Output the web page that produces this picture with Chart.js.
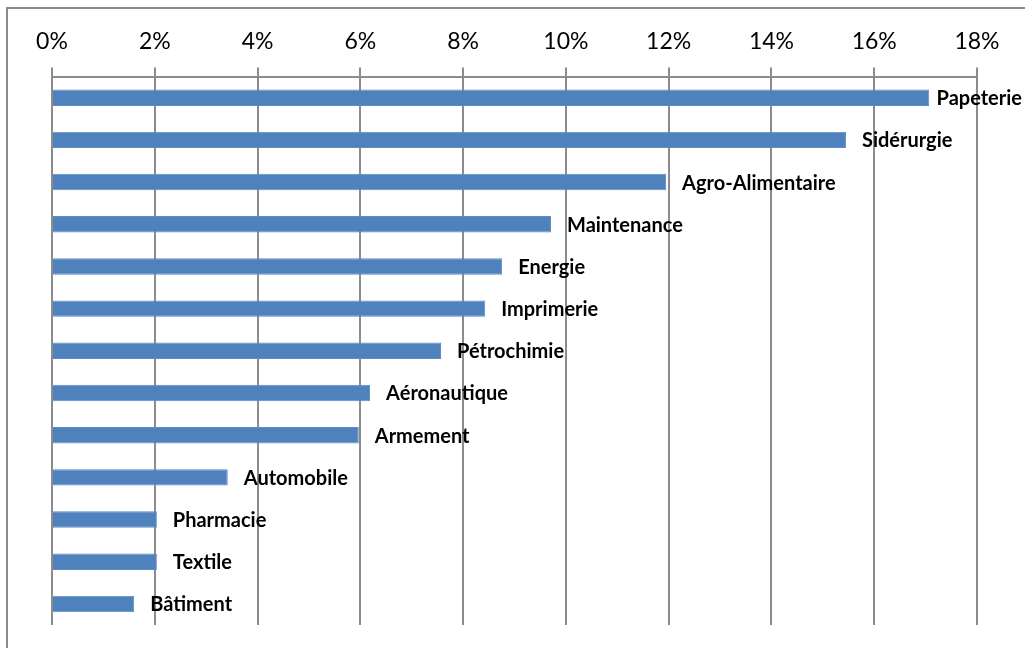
<!DOCTYPE html>
<html>
<head>
<meta charset="utf-8">
<script src="https://cdn.jsdelivr.net/npm/chart.js@4/dist/chart.umd.min.js"></script>
<style>
  html, body { margin: 0; padding: 0; background: #fff; overflow: hidden; }
  #wrap { position: relative; width: 1025px; height: 648px; }
  #frame { position: absolute; left: 6px; top: 7px; width: 1040px; height: 660px;
           border-left: 2px solid #8c8c8c; border-top: 2px solid #8c8c8c; }
  canvas { position: absolute; left: 0; top: 0; }
</style>
</head>
<body>
<div id="wrap">
  <div id="frame"></div>
  <canvas id="barChart" width="1025" height="648"></canvas>
</div>
<script>
const sectors = ["Papeterie", "Sidérurgie", "Agro-Alimentaire", "Maintenance", "Energie",
  "Imprimerie", "Pétrochimie", "Aéronautique", "Armement", "Automobile",
  "Pharmacie", "Textile", "Bâtiment"];
const shares = [17.07, 15.45, 11.95, 9.71, 8.76, 8.43, 7.57, 6.19, 5.97, 3.42, 2.04, 2.04, 1.6];
const tickMax = 18;
const tickStep = 2;

// nom du secteur à droite de chaque barre (recalé s'il dépasse à droite)
const barLabels = {
  id: "barLabels",
  afterDatasetsDraw(chart) {
    const ctx = chart.ctx;
    const meta = chart.getDatasetMeta(0);
    ctx.save();
    ctx.font = "bold 20px Lato";
    ctx.fillStyle = "#000";
    ctx.textBaseline = "middle";
    meta.data.forEach((bar, i) => {
      const w = ctx.measureText(sectors[i]).width;
      const x = Math.min(bar.x + 16, chart.width - w - 3);
      ctx.fillText(sectors[i], x, bar.y + 1);
    });
    ctx.restore();
  }
};

const ctx = document.getElementById("barChart").getContext("2d");
new Chart(ctx, {
  type: "bar",
  data: {
    labels: sectors,
    datasets: [{
      data: shares,
      backgroundColor: "#4f81bd",
      borderColor: "#5b8cc6",
      borderWidth: 1,
      barPercentage: 0.39,
      categoryPercentage: 1
    }]
  },
  options: {
    indexAxis: "y",
    responsive: false,
    animation: false,
    layout: { padding: { left: 52, right: 48, top: 16, bottom: 23 } },
    plugins: { legend: { display: false }, tooltip: { enabled: false } },
    scales: {
      x: {
        position: "top",
        min: 0,
        max: tickMax,
        ticks: {
          stepSize: tickStep,
          color: "#000",
          padding: 12,
          font: { family: "Lato", size: 23 },
          callback: (v) => v + "%"
        },
        grid: { color: "#8c8c8c", lineWidth: 2, tickLength: 9 },
        border: { color: "#8c8c8c", width: 2 }
      },
      y: { display: false }
    }
  },
  plugins: [barLabels]
});
</script>
</body>
</html>
